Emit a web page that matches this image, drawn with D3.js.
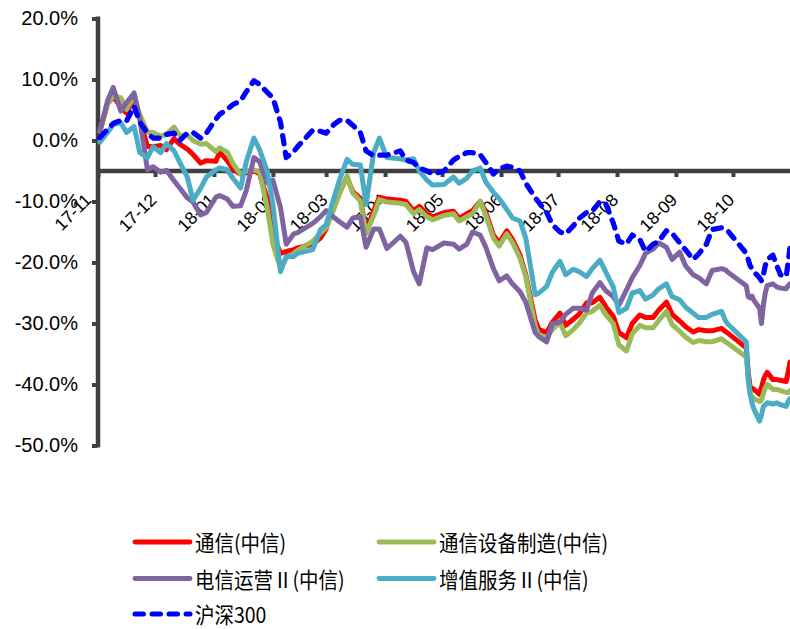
<!DOCTYPE html>
<html>
<head>
<meta charset="utf-8">
<script src="https://cdn.jsdelivr.net/npm/d3@7"></script>
<style>
  body { margin: 0; background: #fff; }
  svg { display: block; }
</style>
</head>
<body>
<svg id="chart" width="790" height="629"></svg>
<script>
// Trading-day sample dates (cumulative return since 2017-11-01)
const dates = [
  "2017-11-02","2017-11-06","2017-11-09","2017-11-13","2017-11-16","2017-11-20","2017-11-23","2017-11-27","2017-11-30",
  "2017-12-04","2017-12-07","2017-12-11","2017-12-14","2017-12-18","2017-12-21","2017-12-25","2017-12-28",
  "2018-01-02","2018-01-04","2018-01-08","2018-01-11","2018-01-15","2018-01-18","2018-01-22","2018-01-25","2018-01-29",
  "2018-02-01","2018-02-05","2018-02-08","2018-02-12","2018-02-14","2018-02-22","2018-02-26",
  "2018-03-01","2018-03-05","2018-03-08","2018-03-12","2018-03-15","2018-03-19","2018-03-22","2018-03-26","2018-03-29",
  "2018-04-02","2018-04-09","2018-04-12","2018-04-16","2018-04-19","2018-04-23","2018-04-26",
  "2018-05-02","2018-05-07","2018-05-10","2018-05-14","2018-05-17","2018-05-21","2018-05-24","2018-05-28","2018-05-31",
  "2018-06-04","2018-06-07","2018-06-11","2018-06-14","2018-06-19","2018-06-21","2018-06-25","2018-06-28",
  "2018-07-02","2018-07-05","2018-07-09","2018-07-12","2018-07-16","2018-07-19","2018-07-23","2018-07-26","2018-07-30",
  "2018-08-02","2018-08-06","2018-08-09","2018-08-13","2018-08-16","2018-08-20","2018-08-23","2018-08-27","2018-08-30",
  "2018-09-03","2018-09-06","2018-09-10","2018-09-13","2018-09-17","2018-09-20","2018-09-25","2018-09-27","2018-09-28",
  "2018-10-08","2018-10-09","2018-10-10","2018-10-11","2018-10-12","2018-10-15","2018-10-16","2018-10-17","2018-10-18",
  "2018-10-19","2018-10-22","2018-10-24","2018-10-26","2018-10-29","2018-10-30","2018-10-31"
];

// 通信(中信)
const tongxin = [
  1.5, 6.0, 7.2, 5.5, 4.5, 7.0, 3.5, -1.0, -1.0,
  -0.8, -1.5, 0.3, -0.6, -1.4, -2.3, -3.7, -3.3,
  -3.4, -1.9, -3.3, -4.7, -5.5, -5.3, -4.9, -5.5, -9.5,
  -15.4, -18.5, -18.2, -17.9, -17.6, -17.0, -16.0,
  -14.5, -10.5, -8.5, -6.0, -8.4, -9.5, -15.0, -11.5, -9.3,
  -9.6, -9.8, -10.0, -11.5, -10.8, -12.0, -12.5,
  -11.8, -11.6, -12.8, -12.0, -11.5, -10.0, -11.8, -15.5, -16.8,
  -14.8, -16.2, -18.8, -22.0, -29.5, -31.0, -31.5, -29.8,
  -28.3, -30.3, -29.3, -28.5, -26.6, -26.6, -25.7, -27.2, -28.8,
  -31.5, -32.3, -30.0, -28.6, -29.0, -29.0, -27.8, -26.5, -28.5,
  -29.6, -30.5, -31.4, -31.0, -31.2, -31.2, -30.8, -31.3, -31.5,
  -34.0, -38.0, -40.3, -40.6, -40.8, -41.6, -40.5, -39.3, -38.5,
  -38.0, -39.2, -39.2, -39.3, -39.5, -38.0, -36.3
];

// 通信设备制造(中信)
const shebei = [
  1.5, 6.0, 7.3, 7.0, 5.1, 7.3, 4.2, 1.4, 1.3,
  0.7, 1.0, 2.2, 0.8, 0.9, 0.0, -0.6, -0.5,
  -1.8, -1.2, -1.9, -3.8, -5.5, -5.0, -4.8, -5.2, -11.0,
  -17.0, -21.0, -19.3, -18.5, -18.0, -16.5, -15.2,
  -14.3, -11.3, -8.8, -5.8, -8.6, -9.9, -15.3, -12.3, -9.7,
  -10.1, -10.3, -10.5, -12.0, -11.3, -12.5, -13.0,
  -12.3, -12.0, -13.2, -12.5, -12.0, -10.0, -12.3, -16.0, -17.3,
  -15.3, -16.7, -19.3, -22.3, -30.5, -32.0, -32.3, -31.0,
  -29.8, -32.0, -31.0, -30.0, -28.3, -28.0, -27.0, -28.5, -30.0,
  -33.5, -34.5, -31.7, -30.3, -30.7, -30.7, -29.5, -28.0, -30.2,
  -31.3, -32.2, -33.1, -32.8, -33.0, -33.0, -32.5, -33.0, -33.2,
  -35.5, -39.0, -41.5, -42.0, -42.3, -42.8, -42.5, -41.5, -40.5,
  -40.0, -40.8, -40.8, -41.0, -41.3, -41.3, -41.0
];

// 电信运营Ⅱ(中信)
const yunying = [
  1.5, 6.5, 8.7, 4.8, 6.2, 7.8, 3.5, -4.8, -4.3,
  -5.2, -4.9, -6.6, -7.8, -9.4, -10.1, -12.2, -11.8,
  -9.3, -9.0, -9.6, -10.8, -10.7, -8.2, -2.8, -3.5, -6.9,
  -6.5, -11.0, -17.0, -15.3, -15.1, -13.6, -12.5,
  -11.5, -12.6, -13.3, -14.2, -12.7, -12.5, -17.5, -14.5, -14.5,
  -17.7, -15.7, -16.7, -21.5, -23.5, -17.6, -17.9,
  -16.8, -17.0, -17.8, -17.0, -15.0, -15.5, -17.5, -21.0, -23.0,
  -22.2, -23.5, -24.8, -26.5, -31.5, -32.2, -33.0, -30.0,
  -29.8, -28.5, -27.5, -27.5, -27.8, -25.0, -23.3, -24.6, -25.6,
  -27.0, -24.5, -22.5, -20.5, -18.5, -17.8, -16.8, -17.5, -19.5,
  -18.3, -20.5, -22.0, -22.5, -23.5, -21.3, -21.0, -21.2, -21.5,
  -23.8, -25.6, -25.8, -25.5, -26.2, -27.5, -30.0, -27.0, -25.0,
  -23.8, -23.5, -24.0, -24.2, -24.3, -23.8, -23.5
];

// 增值服务Ⅱ(中信)
const zengzhi = [
  -0.3, 1.3, 2.6, 2.9, 1.3, 2.3, -2.0, -2.8, -1.0,
  -2.0, -0.5, -1.7, -3.6, -6.0, -9.8, -7.8, -6.0,
  -4.8, -4.5, -4.8, -6.2, -7.8, -3.5, 0.4, -1.5, -5.0,
  -10.5, -21.5, -19.0, -19.0, -18.5, -17.9, -14.6,
  -13.8, -9.5, -6.5, -3.1, -3.9, -4.0, -10.5, -2.0, 0.4,
  -2.8, -3.0, -3.2, -3.0, -5.0, -6.5, -7.3,
  -7.2, -6.0, -7.0, -6.2, -5.0, -4.5, -6.8, -8.5, -9.5,
  -11.3, -12.7, -13.2, -16.0, -25.3, -25.0, -23.9, -21.6,
  -19.8, -22.0, -21.1, -21.5, -22.3, -21.0, -19.6, -21.5, -24.0,
  -28.2, -27.5, -25.0, -24.6, -26.0, -25.3, -24.3, -23.5, -25.6,
  -26.1, -27.3, -28.3, -29.0, -29.0, -28.5, -28.0, -29.5, -30.0,
  -33.0, -39.0, -41.5, -43.0, -44.0, -46.0, -45.0, -43.6, -43.3,
  -43.0, -43.2, -43.0, -43.3, -43.6, -42.8, -42.3
];

// 沪深300
const hs300 = [
  0.5, 1.8, 2.8, 3.3, 3.2, 5.6, 3.0, 1.2, 0.4,
  0.4, 1.0, 1.2, 0.0, 1.2, 1.3, 0.4, 1.2,
  3.5, 4.3, 5.1, 5.9, 6.5, 8.0, 9.8, 9.2, 7.9,
  7.0, 3.0, -2.8, -1.8, -1.0, 1.7, 1.5,
  1.2, 2.6, 3.3, 3.3, 2.5, 1.3, -1.7, -2.5, -2.4,
  -2.4, -1.7, -3.2, -3.6, -4.5, -5.0, -5.5,
  -5.0, -3.2, -2.6, -2.0, -2.0, -2.3, -3.6, -5.5, -4.6,
  -4.2, -4.4, -5.0, -7.0, -9.4, -10.2, -11.8, -13.8,
  -15.0, -15.3, -14.0, -12.8, -11.8, -11.6, -10.0, -10.3, -13.5,
  -16.5, -17.0, -15.5, -16.2, -18.2, -17.0, -16.5, -14.8, -15.2,
  -16.8, -17.9, -19.5, -18.6, -17.0, -14.6, -14.3, -14.5, -14.7,
  -18.5, -19.5, -20.5, -21.0, -21.5, -22.5, -23.0, -22.0, -20.5,
  -19.5, -18.8, -20.5, -22.0, -22.3, -20.0, -17.5
];

const seriesNames = ["通信(中信)", "通信设备制造(中信)", "电信运营Ⅱ(中信)", "增值服务Ⅱ(中信)", "沪深300"];
const seriesColors = ["#FF0000", "#9BBB59", "#8064A2", "#4BACC6", "#0000FF"];
const yTicks = [20, 10, 0, -10, -20, -30, -40, -50];
const monthLabels = ["17-11","17-12","18-01","18-02","18-03","18-04","18-05","18-06","18-07","18-08","18-09","18-10"];

const parseDay = d3.utcParse("%Y-%m-%d");
const parseMonth = d3.utcParse("%y-%m");
const dayDates = dates.map(parseDay);
const allSeries = [tongxin, shebei, yunying, zengzhi, hs300];

const svg = d3.select("#chart");
const axisColor = "#404040";

const x = d3.scaleUtc()
  .domain([parseDay("2017-11-01"), parseDay("2018-10-31")])
  .range([98, 790]);
const y = d3.scaleLinear().domain([-50, 20]).range([445.5, 18.5]);

// Vertical axis
const yAxis = d3.axisLeft(y)
  .tickValues(yTicks)
  .tickSize(6)
  .tickSizeOuter(0)
  .tickPadding(14)
  .tickFormat(d => d.toFixed(1) + "%");
const gy = svg.append("g").attr("transform", "translate(98,0)").call(yAxis);
gy.select(".domain").remove();
gy.append("line")
  .attr("x1", 0).attr("x2", 0)
  .attr("y1", y(20) - 2).attr("y2", y(-50) + 2)
  .attr("stroke", axisColor).attr("stroke-width", 4.5);
gy.selectAll(".tick line").attr("stroke", axisColor).attr("stroke-width", 4).attr("x1", -1);
gy.selectAll(".tick text")
  .attr("fill", "#000")
  .attr("font-family", "'Liberation Sans', Arial, sans-serif")
  .attr("font-size", 20);

// Horizontal axis crossing at -5%
const axisY = y(-5);
const xAxis = d3.axisBottom(x)
  .tickValues(monthLabels.map(parseMonth))
  .tickSize(6)
  .tickSizeOuter(0)
  .tickFormat(d3.utcFormat("%y-%m"));
const gx = svg.append("g").attr("transform", `translate(0,${axisY})`).call(xAxis);
gx.select(".domain").remove();
gx.append("line")
  .attr("x1", 98).attr("x2", 790)
  .attr("y1", 0).attr("y2", 0)
  .attr("stroke", axisColor).attr("stroke-width", 4.5);
gx.selectAll(".tick line").attr("stroke", axisColor).attr("stroke-width", 4);
gx.selectAll(".tick text")
  .attr("fill", "#000")
  .attr("font-family", "'Liberation Sans', Arial, sans-serif")
  .attr("font-size", 17.5)
  .attr("x", 0).attr("y", 0).attr("dy", 0)
  .attr("text-anchor", "end")
  // the first label sits a little left so it clears the vertical axis
  .attr("transform", (d, i) => `translate(${i === 0 ? -6 : 2},30) rotate(-45)`);

// Series lines
const line = d3.line()
  .x(d => x(d.date))
  .y(d => y(d.v));

const plot = svg.append("g");
allSeries.forEach((vals, i) => {
  const pts = vals.map((v, j) => ({ date: dayDates[j], v }));
  const path = plot.append("path")
    .datum(pts)
    .attr("d", line)
    .attr("fill", "none")
    .attr("stroke", seriesColors[i])
    .attr("stroke-linejoin", "round")
    .attr("stroke-linecap", "round");
  if (i === 4) {
    path.attr("stroke-width", 5.2).attr("stroke-dasharray", "8.5,8.5");
  } else {
    path.attr("stroke-width", 5);
  }
});

// Legend
const legendPos = [
  { lx: 135, ly: 542 },
  { lx: 379, ly: 542 },
  { lx: 135, ly: 578.5 },
  { lx: 379, ly: 578.5 },
  { lx: 135, ly: 614 }
];
const legend = svg.append("g");
seriesNames.forEach((name, i) => {
  const p = legendPos[i];
  const ln = legend.append("line")
    .attr("x1", p.lx).attr("x2", p.lx + 55)
    .attr("y1", p.ly).attr("y2", p.ly)
    .attr("stroke", seriesColors[i])
    .attr("stroke-linecap", "round");
  if (i === 4) {
    ln.attr("stroke-width", 5).attr("stroke-dasharray", "8.5,8.5");
  } else {
    ln.attr("stroke-width", 4.8);
  }
  legend.append("text")
    .attr("transform", `translate(${p.lx + 60},${p.ly + 1.5}) scale(1,1.1)`)
    .attr("dy", "0.36em")
    .attr("font-family", "'Noto Sans CJK SC', 'Noto Sans', sans-serif")
    .attr("font-size", 19.5)
    .attr("fill", "#000")
    .text(name);
});
</script>
</body>
</html>
